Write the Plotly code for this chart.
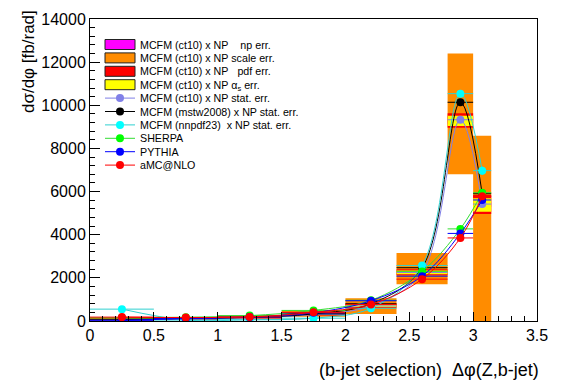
import plotly.graph_objects as go

# ---------------- data ----------------
bin_edges = [0.0, 0.5, 1.0, 1.5, 2.0, 2.4, 2.8, 3.0, 3.1416]
bin_centers = [0.25, 0.75, 1.25, 1.75, 2.2, 2.6, 2.9, 3.0708]

mcfm_ct10 = [60, 100, 150, 300, 700, 2250, 9330, 5420]
mcfm_mstw = [80, 110, 170, 330, 800, 2470, 10140, 5900]
mcfm_nnpdf = [550, 40, 60, 130, 590, 2570, 10540, 6970]
sherpa = [150, 170, 250, 490, 960, 2300, 4270, 5950]
pythia = [30, 110, 180, 380, 940, 2080, 4060, 5610]
amcnlo = [180, 160, 190, 400, 770, 1940, 3850, 5780]

stat_ct10 = [20, 20, 20, 30, 40, 60, 120, 150]
stat_mstw = [20, 20, 20, 30, 40, 60, 120, 150]
stat_nnpdf = [30, 20, 20, 30, 40, 60, 140, 200]
stat_sherpa = [20, 20, 20, 30, 40, 60, 100, 150]
stat_pythia = [20, 20, 20, 30, 40, 60, 100, 150]
stat_amc = [20, 20, 20, 30, 40, 60, 100, 150]

np_lo = [50, 90, 140, 285, 670, 2200, 9150, 5300]
np_hi = [70, 110, 160, 315, 730, 2300, 9500, 5540]
scale_lo = [20, 60, 100, 200, 330, 1700, 6800, -600]
scale_hi = [160, 190, 260, 480, 1050, 3150, 12400, 8590]
pdf_lo = [40, 80, 120, 260, 620, 2120, 8960, 4960]
pdf_hi = [90, 130, 190, 350, 800, 2400, 9630, 5840]
as_lo = [50, 90, 135, 280, 650, 2170, 9040, 5070]
as_hi = [75, 115, 170, 330, 770, 2340, 9520, 5690]

band_names = [
    "MCFM (ct10) x NP\u00a0\u00a0\u00a0\u00a0np err.",
    "MCFM (ct10) x NP scale err.",
    "MCFM (ct10) x NP\u00a0\u00a0\u00a0pdf err.",
    "MCFM (ct10) x NP α<sub>s</sub> err.",
]
band_colors = ["#ff00ff", "#ff8c00", "#ff0000", "#ffff00"]
band_lows = [np_lo, scale_lo, pdf_lo, as_lo]
band_highs = [np_hi, scale_hi, pdf_hi, as_hi]

series_names = [
    "MCFM (ct10) x NP stat. err.",
    "MCFM (mstw2008) x NP stat. err.",
    "MCFM (nnpdf23)\u00a0\u00a0x NP stat. err.",
    "SHERPA",
    "PYTHIA",
    "aMC@NLO",
]
series_values = [mcfm_ct10, mcfm_mstw, mcfm_nnpdf, sherpa, pythia, amcnlo]
series_stat = [stat_ct10, stat_mstw, stat_nnpdf, stat_sherpa, stat_pythia, stat_amc]
series_line_colors = ["#7f7fe6", "#000000", "#2fd0d0", "#33dd33", "#0000ff", "#ff0000"]
series_marker_colors = ["#8080e8", "#000000", "#00ffff", "#00ff00", "#0000ff", "#ff0000"]

x_ticks = [0, 0.5, 1, 1.5, 2, 2.5, 3, 3.5]
y_ticks = [0, 2000, 4000, 6000, 8000, 10000, 12000, 14000]

# ---------------- figure ----------------
FONT = "Liberation Sans, Arial, Helvetica, sans-serif"
W, H = 567, 384
L, R, T, B = 90, 30, 19, 63
plot_w = W - L - R
plot_h = H - T - B

fig = go.Figure()

half_w = [(bin_edges[i + 1] - bin_edges[i]) / 2 for i in range(len(bin_centers))]

legend_y_px = [44.5 + 13.4 * i for i in range(10)]
legend_ids = ["legend"] + ["legend%d" % (i + 2) for i in range(9)]
legend_x_px = 100


def py(ypx):
    return 1 - (ypx - T) / plot_h


def px(xpx):
    return (xpx - L) / plot_w


# bands
for k, (name, col, lo, hi) in enumerate(zip(band_names, band_colors, band_lows, band_highs)):
    xs, ys = [], []
    for i in range(len(bin_centers)):
        e0, e1 = bin_edges[i], bin_edges[i + 1]
        xs += [e0, e1, e1, e0, e0, None]
        ys += [lo[i], lo[i], hi[i], hi[i], lo[i], None]
    fig.add_trace(go.Scatter(x=xs, y=ys, mode="lines", fill="toself", fillcolor=col,
                             line=dict(width=0, color=col), hoverinfo="skip", showlegend=False))
    # legend entry (text); the boxed swatch is drawn as a shape below
    fig.add_trace(go.Scatter(x=[None], y=[None], mode="lines",
                             line=dict(width=0, color="rgba(0,0,0,0)"), name=name,
                             legend=legend_ids[k], showlegend=True))
    yc = legend_y_px[k]
    fig.add_shape(type="rect", xref="paper", yref="paper",
                  x0=px(legend_x_px + 5), x1=px(legend_x_px + 35),
                  y0=py(yc + 5), y1=py(yc - 5),
                  fillcolor=col, line=dict(color="#222222", width=1), layer="above")

# series
for k, (name, vals, st, lc, mc) in enumerate(zip(series_names, series_values, series_stat,
                                                 series_line_colors, series_marker_colors)):
    fig.add_trace(go.Scatter(
        x=bin_centers, y=vals, mode="lines+markers", name=name,
        line=dict(color=lc, width=1, shape="spline", smoothing=1.0),
        marker=dict(color=mc, size=8, line=dict(width=0)),
        error_x=dict(type="data", array=half_w, color=lc, thickness=1, width=0),
        error_y=dict(type="data", array=st, color=lc, thickness=1, width=0),
        legend=legend_ids[4 + k], showlegend=True,
    ))

layout_legends = {}
for i, lid in enumerate(legend_ids):
    layout_legends[lid] = dict(
        x=px(legend_x_px), y=py(legend_y_px[i]), xanchor="left", yanchor="middle",
        bgcolor="rgba(0,0,0,0)", borderwidth=0,
        font=dict(family=FONT, size=10.7, color="black"),
        itemwidth=30, tracegroupgap=0,
    )

fig.update_layout(
    width=W, height=H,
    margin=dict(l=L, r=R, t=T, b=B),
    paper_bgcolor="white", plot_bgcolor="white",
    font=dict(family=FONT, size=16, color="black"),
    **layout_legends,
)

fig.update_xaxes(
    range=[0, 3.5], tickvals=x_ticks, ticktext=[("%g" % v) for v in x_ticks],
    ticks="inside", ticklen=9, tickwidth=1, tickcolor="black",
    minor=dict(dtick=0.1, ticks="inside", ticklen=5, tickcolor="black", tickwidth=1),
    showline=True, linecolor="black", linewidth=1, mirror=True, automargin=False,
    showgrid=False, zeroline=False, tickfont=dict(size=16),
)
fig.update_yaxes(
    range=[0, 14000], tickvals=y_ticks, ticktext=[("%d" % v) for v in y_ticks],
    ticks="inside", ticklen=10, tickwidth=1, tickcolor="black",
    minor=dict(dtick=400, ticks="inside", ticklen=5, tickcolor="black", tickwidth=1),
    showline=True, linecolor="black", linewidth=1, mirror=True, automargin=False,
    showgrid=False, zeroline=False, tickfont=dict(size=16),
)

fig.add_annotation(text="(b-jet selection)\u00a0\u00a0Δφ(Z,b-jet)", xref="paper", yref="paper",
                   x=px(541), y=-(370 - (H - B)) / plot_h, xanchor="right", yanchor="middle",
                   showarrow=False, font=dict(size=18))
fig.add_annotation(text="dσ/dφ [fb/rad]", xref="paper", yref="paper",
                   x=px(29), y=py(62), xanchor="center", yanchor="middle",
                   textangle=-90, showarrow=False, font=dict(size=17))

fig.write_html("out.html", config={"displayModeBar": False},
               post_script="document.body.style.margin='0';document.body.style.padding='0';")
